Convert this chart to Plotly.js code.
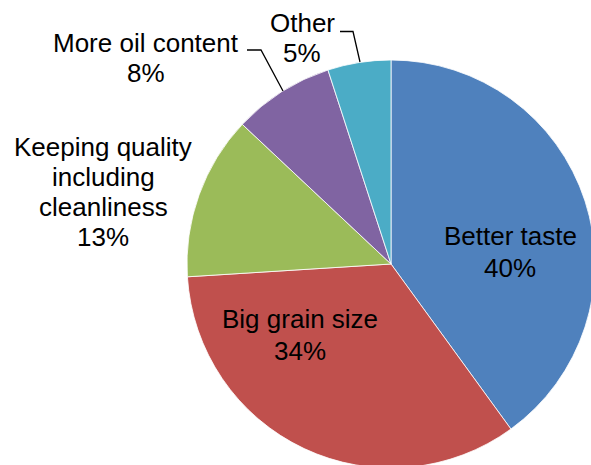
<!DOCTYPE html>
<html>
<head>
<meta charset="utf-8">
<script src="https://cdn.plot.ly/plotly-3.0.1.min.js"></script>
<style>
html,body{margin:0;padding:0;overflow:hidden;background:#fff;width:591px;height:465px;}
#chart{width:600px;height:470px;}
</style>
</head>
<body>
<div id="chart"></div>
<script>
// Data
var labels = ["Better taste", "Big grain size", "Keeping quality including cleanliness", "More oil content", "Other"];
var values = [40, 34, 13, 8, 5];
var labelLines = [["Better taste"], ["Big grain size"], ["Keeping quality", "including", "cleanliness"], ["More oil content"], ["Other"]];
var colors = ["#4F81BD", "#C0504D", "#9BBB59", "#8064A2", "#4BACC6"];

var W = 600, H = 470;
function px(x){ return x / W; }
function py(y){ return 1 - y / H; }

// label layout: centre x and first-line centre y (pixels), line pitch
var labelPos = [[510, 236], [300, 319], [103, 147], [146, 43], [302, 23]];
var pitch = [32, 32, 30, 30, 30];

var total = values.reduce(function(a,b){return a+b;}, 0);
var annotations = [];
labels.forEach(function(l, i){
  var pct = Math.round(values[i] / total * 100) + "%";
  var lines = labelLines[i].concat([pct]);
  lines.forEach(function(t, k){
    annotations.push({
      xref: "paper", yref: "paper",
      x: px(labelPos[i][0]), y: py(labelPos[i][1] + k * pitch[i]),
      xanchor: "center", yanchor: "middle",
      text: t,
      showarrow: false,
      font: {family: "Liberation Sans, Arial, sans-serif", size: 26, color: "#000"},
      align: "center"
    });
  });
});

function pathOf(pts){
  return pts.map(function(p, k){ return (k ? "L" : "M") + px(p[0]) + "," + py(p[1]); }).join(" ");
}
var shapes = [
  {type: "path", xref: "paper", yref: "paper", path: pathOf([[247, 50], [261, 50], [283, 91]]), line: {color: "#000", width: 1.3}},
  {type: "path", xref: "paper", yref: "paper", path: pathOf([[340, 31.5], [353, 31.5], [360, 62]]), line: {color: "#000", width: 1.3}}
];

var trace = {
  type: "pie",
  labels: labels,
  values: values,
  sort: false,
  direction: "clockwise",
  rotation: 0,
  textinfo: "none",
  hoverinfo: "label+percent",
  marker: {colors: colors, line: {color: "#ffffff", width: 0.8}},
  domain: {x: [187 / W, 595 / W], y: [py(468), py(60)]},
  showlegend: false
};

var layout = {
  width: W, height: H,
  margin: {l: 0, r: 0, t: 0, b: 0},
  paper_bgcolor: "#ffffff",
  plot_bgcolor: "#ffffff",
  showlegend: false,
  annotations: annotations,
  shapes: shapes
};

Plotly.newPlot("chart", [trace], layout, {displayModeBar: false, staticPlot: true});
</script>
</body>
</html>
